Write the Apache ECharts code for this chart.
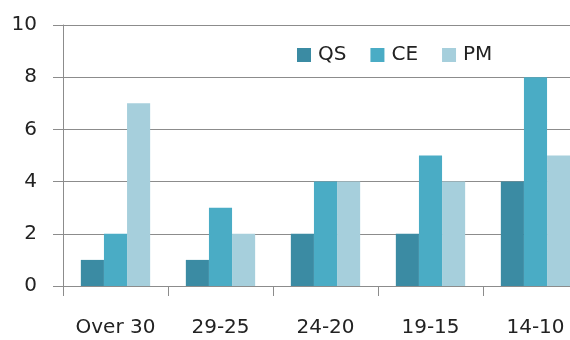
<!DOCTYPE html>
<html><head><meta charset="utf-8">
<script src="https://cdn.jsdelivr.net/npm/echarts@6/dist/echarts.min.js"></script>
<style>html,body{margin:0;padding:0;background:#fff}#c{width:570px;height:340px}</style>
</head><body><div id="c"></div>
<script>
const categories = ['Over 30', '29-25', '24-20', '19-15', '14-10'];
const qs = [1, 1, 2, 2, 4];
const ce = [2, 3, 4, 5, 8];
const pm = [7, 2, 4, 4, 5];
const seriesNames = ['QS', 'CE', 'PM'];
const colors = ['#3b8ba3', '#4aacc5', '#a6cfdc'];
const font = '"DejaVu Sans", sans-serif';

const chart = echarts.init(document.getElementById('c'), null, {renderer: 'canvas'});
chart.setOption({
  animation: false,
  color: colors,
  grid: {left: 63, top: 25, width: 525, height: 261, containLabel: false, outerBoundsMode: 'none'},
  legend: {
    data: seriesNames, left: 297, top: 45, padding: 0, itemWidth: 14, itemHeight: 14, itemGap: 24,
    icon: 'rect',
    textStyle: {fontFamily: font, fontSize: 20, color: '#222', padding: [0,0,0,2]}
  },
  xAxis: {
    type: 'category', data: categories,
    axisLine: {lineStyle: {color: '#8c8c8c', width: 1}},
    axisTick: {show: true, length: 10, lineStyle: {color: '#8c8c8c'}},
    axisLabel: {fontFamily: font, fontSize: 20, color: '#222', margin: 32}
  },
  yAxis: {
    type: 'value', min: 0, max: 10, interval: 2,
    axisLine: {show: true, lineStyle: {color: '#8c8c8c', width: 1}},
    axisTick: {show: true, length: 10, lineStyle: {color: '#8c8c8c'}},
    splitLine: {show: true, lineStyle: {color: '#8c8c8c', width: 1}},
    axisLabel: {fontFamily: font, fontSize: 20, color: '#222', margin: 26}
  },
  series: [
    {name: 'QS', type: 'bar', data: qs, barGap: '0%', barCategoryGap: '34%'},
    {name: 'CE', type: 'bar', data: ce, barGap: '0%', barCategoryGap: '34%'},
    {name: 'PM', type: 'bar', data: pm, barGap: '0%', barCategoryGap: '34%'}
  ]
});
</script></body></html>
